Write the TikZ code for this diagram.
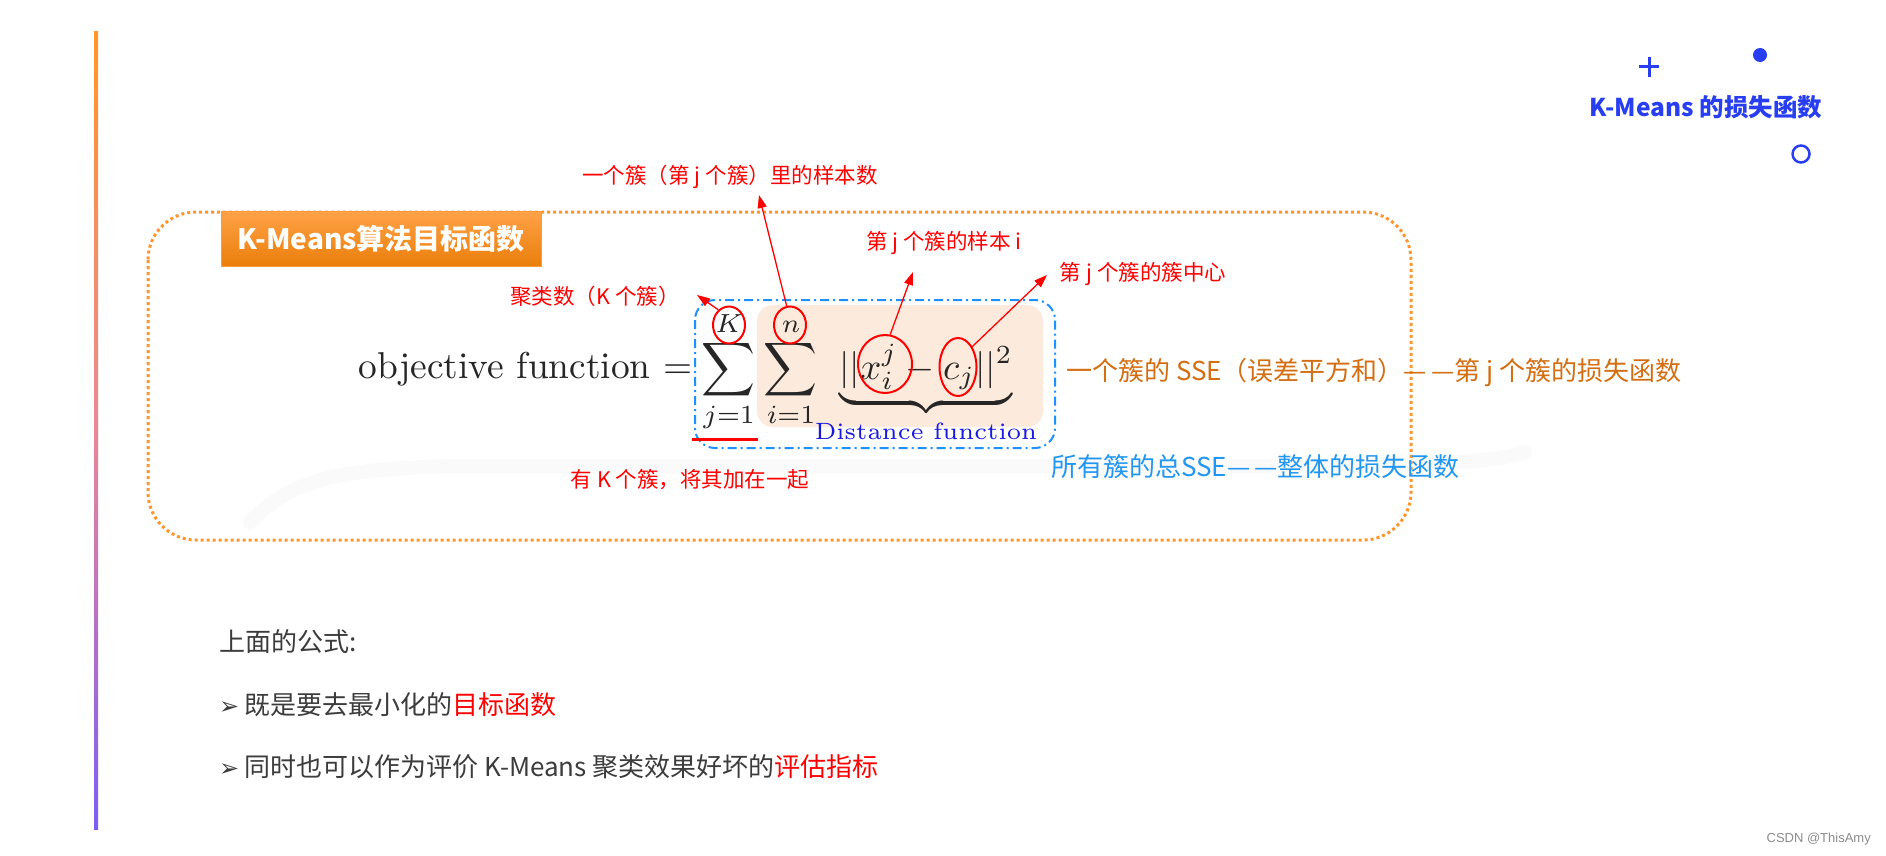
\documentclass[tikz,border=0pt]{standalone}
\usepackage{amsmath}
\usepackage{fontspec}
\usetikzlibrary{arrows.meta,shapes.geometric}
\newfontfamily\cjk{Noto Sans CJK SC}
\newfontfamily\dejavu{DejaVu Sans}
\newfontfamily\libsans{Liberation Sans}
\definecolor{ttlblue}{RGB}{40,62,242}
\definecolor{dotorange}{RGB}{255,150,45}
\definecolor{annred}{RGB}{255,0,0}
\definecolor{sseorange}{RGB}{212,110,18}
\definecolor{sseblue}{RGB}{33,150,243}
\definecolor{boxblue}{RGB}{30,144,255}
\definecolor{peach}{RGB}{252,235,220}
\definecolor{darktext}{RGB}{60,60,60}
\definecolor{distblue}{RGB}{25,25,225}
\definecolor{barTop}{RGB}{255,150,40}
\definecolor{barMid}{RGB}{235,135,150}
\definecolor{barBot}{RGB}{125,92,245}
\definecolor{ttlTop}{RGB}{255,162,72}
\definecolor{ttlBot}{RGB}{234,126,10}
\begin{document}
\begin{tikzpicture}[x=1pt,y=-1pt,
  ann/.style={font=\cjk\fontsize{21.5}{24}\selectfont, text=annred, inner sep=0pt},
  arr/.style={draw=annred, line width=1.3pt, -{Triangle[length=13pt,width=9pt]}},
  ring/.style={ellipse, draw=annred, line width=2pt, inner sep=0pt},
  big/.style={font=\fontsize{10}{12}\selectfont, scale=3.74, text=black!85, inner sep=0pt},
  body/.style={font=\cjk\fontsize{26}{30}\selectfont, text=darktext, inner sep=0pt, anchor=west},
  sse/.style={font=\cjk\fontsize{26}{30}\selectfont, inner sep=0pt, anchor=west},
]
\useasboundingbox (0,0) rectangle (1886,856);
\fill[white] (0,0) rectangle (1886,856);

% faint swoosh
\draw[black!2, line width=14pt, line cap=round] (250,522) .. controls (290,480) and (340,468) .. (460,466) -- (1300,466) .. controls (1420,466) and (1500,462) .. (1525,452);

% left gradient bar
\shade[top color=barTop, bottom color=barBot, middle color=barMid] (94,32) rectangle (98,829);

% dotted frame
\draw[dotorange, line width=3pt, dash pattern=on 3pt off 3pt, rounded corners=48pt] (148,212) rectangle (1411,540);

% title box
\node[top color=ttlTop, bottom color=ttlBot, draw=ttlTop!80!ttlBot, line width=0.8pt,
      minimum width=320pt, minimum height=55pt, inner sep=0pt,
      font=\cjk\bfseries\fontsize{28}{32}\selectfont, text=white] (title) at (381,238.5) {K-Means算法目标函数};

% formula backgrounds
\fill[peach, rounded corners=16pt] (757,305) rectangle (1043,427);
\draw[boxblue, line width=2pt, dash pattern=on 9pt off 4pt on 2pt off 4pt, rounded corners=20pt] (695,300) rectangle (1055,448);

% formula
\node[big, anchor=base west] (obj) at (358,378) {objective function $=$};
\node[big, anchor=base] (s1) at (729,379) {$\displaystyle\sum_{j=1}^{K}$};
\node[big, anchor=base] (s2) at (791,379) {$\displaystyle\sum_{i=1}^{n}$};
\node[big, anchor=base] (nrm) at (926,379) {$\underbrace{||x_i^j - c_j||^2}_{\text{\fontsize{6.3}{7}\selectfont\color{distblue}Distance function}}$};

% red rings
\node[ring, minimum width=32pt, minimum height=37pt] (rK) at (729,325) {};
\node[ring, minimum width=32pt, minimum height=37pt] (rn) at (790,325) {};
\node[ring, minimum width=54pt, minimum height=58pt] (rx) at (885,364) {};
\node[ring, minimum width=37pt, minimum height=58pt] (rc) at (958,367) {};

% red underline
\draw[annred, line width=3pt] (692,439) -- (758,439);

% annotations
\node[ann] (l1) at (730,177) {一个簇（第 j 个簇）里的样本数};
\node[ann] (lK) at (595,296) {聚类数（K 个簇）};
\node[ann] (lx) at (944,243) {第 j 个簇的样本 i};
\node[ann] (lc) at (1143,274) {第 j 个簇的簇中心};
\node[ann] (lsum) at (690,480) {有 K 个簇，将其加在一起};

\coordinate (tK) at (697,295);
\coordinate (tn) at (759,195);
\coordinate (tx) at (913,272);
\coordinate (tc) at (1047,275);
\draw[arr] (rK.125) -- (tK);
\draw[arr] (rn.100) -- (tn);
\draw[arr] (rx.80) -- (tx);
\draw[arr] (rc.55) -- (tc);

% SSE texts
\node[sse, text=sseorange] (sse1) at (1066,373) {一个簇的 SSE（误差平方和）—\kern4pt—第 j 个簇的损失函数};
\node[sse, text=sseblue] (sse2) at (1051,467) {所有簇的总SSE—\kern4pt—整体的损失函数};

% top right decoration
\draw[ttlblue, line width=3pt] (1639,67) -- (1659,67) (1649,57) -- (1649,77);
\fill[ttlblue] (1760,55) circle (7);
\draw[ttlblue, line width=2.5pt] (1801,154) circle (8.5);
\node[font=\cjk\bfseries\fontsize{24.5}{28}\selectfont, text=ttlblue, inner sep=0pt] (kt) at (1706,107) {K-Means 的损失函数};

% bottom text
\node[body] (b0) at (219,642) {上面的公式:};
\node[body] (b1) at (219,705) {{\dejavu\fontsize{24}{28}\selectfont ➢}\hspace{5pt}既是要去最小化的\textcolor{annred}{目标函数}};
\node[body] (b2) at (219,767) {{\dejavu\fontsize{24}{28}\selectfont ➢}\hspace{5pt}同时也可以作为评价 K-Means 聚类效果好坏的\textcolor{annred}{评估指标}};

% watermark
\node[font=\libsans\fontsize{13}{15}\selectfont, text=black!45, anchor=east, inner sep=0pt] (wm) at (1871,839) {CSDN @ThisAmy};
\end{tikzpicture}
\end{document}
